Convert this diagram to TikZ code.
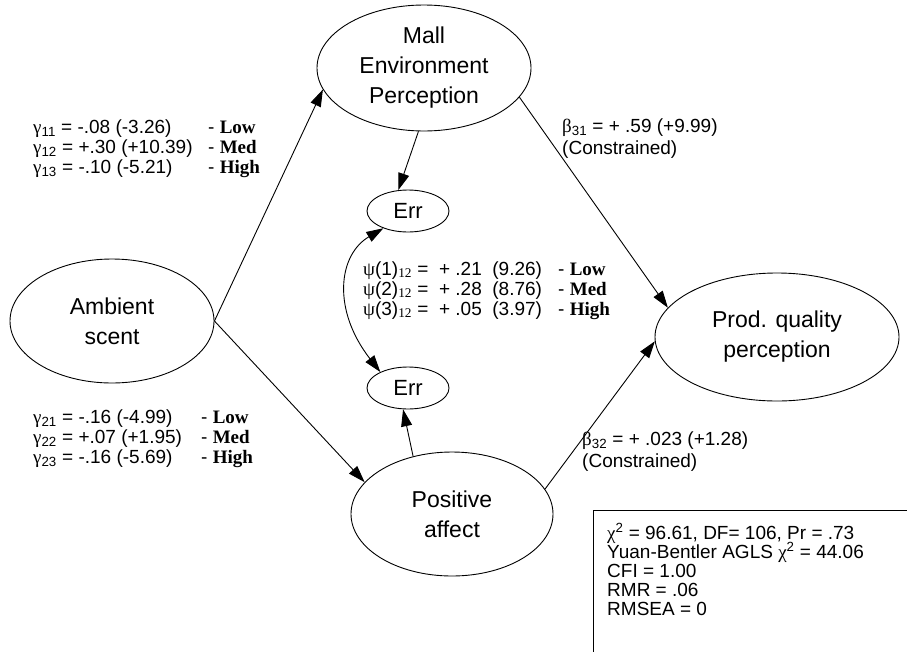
\documentclass[tikz,border=0pt]{standalone}
\usepackage{fontspec}
\setmainfont{Liberation Sans}
\newfontfamily\tms{Liberation Serif}
\usetikzlibrary{arrows.meta,shapes.geometric}
\newcommand\mygam{{\tms γ}}
\newcommand\mypsi{{\tms ψ}}
\newcommand\mybeta{{\tms β}}
\newcommand\mychi{{\tms χ}}
\newcommand\lvl[1]{- {\tms\bfseries #1}}
\begin{document}
\begin{tikzpicture}[x=1pt,y=-1pt,
  lat/.style n args={2}{ellipse, draw, line width=0.9pt, inner sep=0pt,
     minimum width=#1, minimum height=#2, align=center,
     font=\fontsize{23}{30}\selectfont},
  errnode/.style={ellipse, draw, line width=0.9pt, inner sep=0pt,
     minimum width=82pt, minimum height=42pt, font=\fontsize{22}{26}\selectfont},
  arr/.style={line width=0.9pt, -{Triangle[length=17pt,width=11pt]}},
  dbl/.style={line width=0.9pt, {Triangle[length=17pt,width=11pt]}-{Triangle[length=17pt,width=11pt]}},
  lbl/.style={font=\fontsize{19}{19}\selectfont, inner sep=0pt, anchor=base west}]
\path[use as bounding box] (0,0) rectangle (907,651);

% latent variables
\node[lat={214}{126}] (mall) at (424,68) {Mall\\Environment\\Perception};
\node[lat={204}{124}] (amb) at (112,321) {Ambient\\scent};
\node[lat={244}{128}] (prod) at (777,337) {Prod. quality\\perception};
\node[lat={202}{124}] (pos) at (452,514) {Positive\\affect};
\node[errnode] (errt) at (408,211) {Err};
\node[errnode] (errb) at (408,388) {Err};

% paths
\draw[arr] (amb.east) -- (mall.192);
\draw[arr] (amb.east) -- (pos.160);
\draw[arr] (mall.343) -- (prod.165);
\draw[arr] (pos.15) -- (prod.182);
\draw[arr] (mall.265) -- (errt.115);
\draw[arr] (pos.124) -- (errb.257);
\draw[dbl] (errt.215) .. controls (338,255) and (332,310) .. (errb.150);

% gamma 1x
\node[lbl] (g11) at (33,133) {\mygam\textsubscript{11} = -.08 (-3.26)};
\node[lbl] (g12) at (33,153) {\mygam\textsubscript{12} = +.30 (+10.39)};
\node[lbl] (g13) at (33,173) {\mygam\textsubscript{13} = -.10 (-5.21)};
\node[lbl] (g11r) at (208,133) {\lvl{Low}};
\node[lbl] (g12r) at (208,153) {\lvl{Med}};
\node[lbl] (g13r) at (208,173) {\lvl{High}};

% gamma 2x
\node[lbl] (g21) at (33,423) {\mygam\textsubscript{21} = -.16 (-4.99)};
\node[lbl] (g22) at (33,443) {\mygam\textsubscript{22} = +.07 (+1.95)};
\node[lbl] (g23) at (33,463) {\mygam\textsubscript{23} = -.16 (-5.69)};
\node[lbl] (g21r) at (201,423) {\lvl{Low}};
\node[lbl] (g22r) at (201,443) {\lvl{Med}};
\node[lbl] (g23r) at (201,463) {\lvl{High}};

% psi
\node[lbl] (p1) at (363,275) {\mypsi(1){\tms\textsubscript{12}} =\ \ + .21\ \ (9.26)};
\node[lbl] (p2) at (363,295) {\mypsi(2){\tms\textsubscript{12}} =\ \ + .28\ \ (8.76)};
\node[lbl] (p3) at (363,315) {\mypsi(3){\tms\textsubscript{12}} =\ \ + .05\ \ (3.97)};
\node[lbl] (p1r) at (558,275) {\lvl{Low}};
\node[lbl] (p2r) at (558,295) {\lvl{Med}};
\node[lbl] (p3r) at (558,315) {\lvl{High}};

% beta
\node[lbl] (b31) at (562,132) {\mybeta\textsubscript{31} = + .59 (+9.99)};
\node[lbl] (b31c) at (562,154) {(Constrained)};
\node[lbl] (b32) at (582,445) {\mybeta\textsubscript{32} = + .023 (+1.28)};
\node[lbl] (b32c) at (582,467) {(Constrained)};

% fit box
\begin{scope}
\clip (0,0) rectangle (907,651);
\draw[line width=0.9pt] (593,510) rectangle (940,690);
\end{scope}
\node[lbl] (f1) at (607,539) {\mychi\textsuperscript{2} = 96.61, DF= 106, Pr = .73};
\node[lbl] (f2) at (607,558) {Yuan-Bentler AGLS \mychi\textsuperscript{2} = 44.06};
\node[lbl] (f3) at (607,577) {CFI = 1.00};
\node[lbl] (f4) at (607,596) {RMR = .06};
\node[lbl] (f5) at (607,615) {RMSEA = 0};
\end{tikzpicture}
\end{document}
